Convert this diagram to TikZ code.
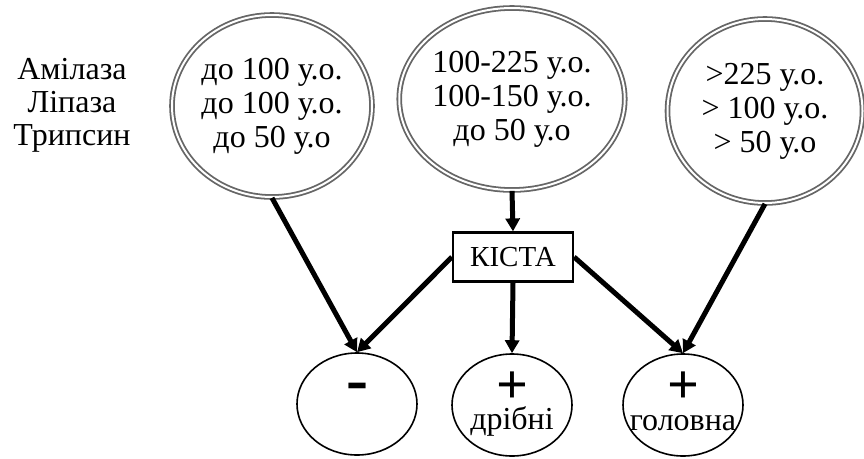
\documentclass[tikz,border=0pt]{standalone}
\usepackage{fontspec}
\setmainfont{Liberation Serif}
\usetikzlibrary{shapes.geometric,arrows.meta}
\begin{document}
\begin{tikzpicture}[x=1pt,y=-1pt,
  bigcirc/.style={ellipse,draw=black!60,double=white,double distance=2pt,line width=1.8pt,inner sep=0pt,align=center,font=\fontsize{32}{34}\selectfont},
  smallell/.style={ellipse,draw=black,line width=1.6pt,minimum width=120pt,minimum height=102pt,inner sep=0pt},
  box/.style={draw=black,line width=2.2pt,minimum width=120pt,minimum height=49pt,inner sep=0pt,font=\fontsize{29}{33}\selectfont},
  arr/.style={line width=5pt,-{Triangle[length=13pt,width=14pt]}},
  lbl/.style={font=\fontsize{32}{33}\selectfont,align=center},
  sign/.style={inner sep=0pt,text depth=0pt,font=\fontsize{56}{56}\selectfont\bfseries}]
\useasboundingbox (0,0) rectangle (864,458);
\node[lbl] (names) at (72,105) {Амілаза\\Ліпаза\\Трипсин};
\node[bigcirc,minimum width=200pt,minimum height=182pt] (c1) at (272,106) {до 100 у.о.\\до 100 у.о.\\до 50 у.о};
\node[bigcirc,minimum width=198pt,minimum height=182pt] (c2) at (512,99) {100-225 у.о.\\100-150 у.о.\\до 50 у.о};
\node[bigcirc,minimum width=195pt,minimum height=184pt] (c3) at (765,111) {>225 у.о.\\> 100 у.о.\\> 50 у.о};
\node[box] (k) at (513,257) {КІСТА};
\node[smallell] (m) at (357,404) {};
\node[smallell] (d) at (512,405) {};
\node[smallell] (g) at (683,405) {};
\node[sign,font=\fontsize{66}{66}\selectfont\bfseries] (mt) at (357,392) {-};
\node[sign] (dp) at (512,388) {+};
\node[sign] (gp) at (683,388) {+};
\node[lbl,inner sep=0pt] (dt) at (512,421) {дрібні};
\node[lbl,inner sep=0pt] (gt) at (683,423) {головна};
\draw[arr] (c1.south) -- (m.north);
\draw[arr] (c2.south) -- (k.north);
\draw[arr] (c3.south) -- (g.north);
\draw[arr] (k.west) -- (m.north);
\draw[arr] (k.south) -- (d.north);
\draw[arr] (k.east) -- (g.north);
\end{tikzpicture}
\end{document}
